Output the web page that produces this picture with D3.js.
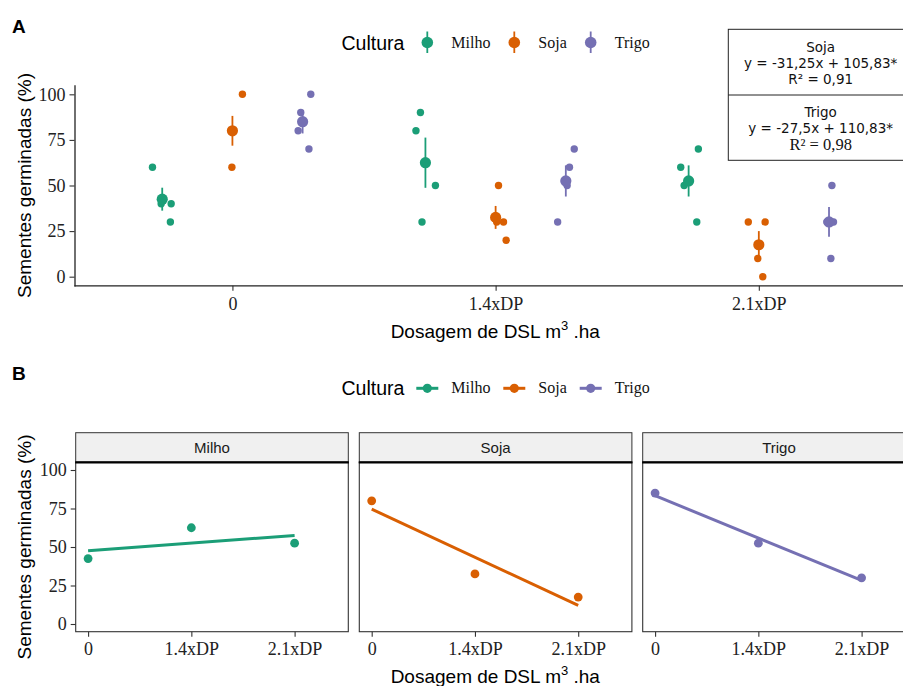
<!DOCTYPE html>
<html><head><meta charset="utf-8">
<script src="https://cdn.jsdelivr.net/npm/d3@7"></script>
<style>body{margin:0;background:#fff} svg{display:block}</style>
</head><body><svg id="c" width="903" height="686"></svg>
<script>
// ---------- data ----------
const doses = ["0", "1.4xDP", "2.1xDP"];
const cultures = ["Milho", "Soja", "Trigo"];
const cultureColors = ["#1B9E77", "#D95F02", "#7570B3"];
const yTicks = [0, 25, 50, 75, 100];

// replicates (4 per dose), per culture
const milhoReps = [[60, 40, 40, 30], [90, 80, 50, 30], [70, 60, 50, 30]];
const sojaReps  = [[100, 80, 80, 60], [50, 30, 30, 20], [30, 30, 10, 0]];
const trigoReps = [[100, 90, 80, 70], [70, 60, 50, 30], [50, 30, 30, 10]];

// horizontal jitter of each replicate (x-axis units)
const milhoJitter = [[-0.037, 0.034, -0.004, 0.031], [-0.019, -0.036, 0.038, -0.013], [0.037, -0.030, -0.017, 0.031]];
const sojaJitter  = [[0.038, 0.002, -0.004, -0.002], [0.011, 0.030, 0.004, 0.040], [-0.040, 0.024, -0.004, 0.015]];
const trigoJitter = [[0.031, -0.007, -0.017, 0.024], [0.032, 0.014, 0.005, -0.031], [0.011, 0.017, -0.008, 0.007]];

const eqSoja  = ["Soja", "y = -31,25x + 105,83*", "R² = 0,91"];
const eqTrigo = ["Trigo", "y = -27,5x + 110,83*", "R² = 0,98"];

const legendTitle = "Cultura";
const yTitle = "Sementes germinadas (%)";

// ---------- derived ----------
const reps = [milhoReps, sojaReps, trigoReps];
const jit = [milhoJitter, sojaJitter, trigoJitter];
const stats = reps.map(c => c.map(v => {
  const m = d3.mean(v), se = d3.deviation(v) / Math.sqrt(v.length);
  return {mean: m, lo: m - se, hi: m + se};
}));
function linfit(ys) {
  const xs = ys.map((_, i) => i + 1);
  const mx = d3.mean(xs), my = d3.mean(ys);
  const b = d3.sum(xs, (x, i) => (x - mx) * (ys[i] - my)) / d3.sum(xs, x => (x - mx) ** 2);
  return {b, a: my - b * mx};
}

const SANS = "'Liberation Sans', Arial, sans-serif";
const SERIF = "'Liberation Serif', 'Times New Roman', serif";
const DEJA = "'DejaVu Sans', Verdana, sans-serif";
const svg = d3.select("#c");

function yAxisTitle(cy) {
  svg.append("text").attr("transform", `translate(31,${cy}) rotate(-90)`)
    .attr("text-anchor", "middle").attr("font-family", SANS).attr("font-size", 19)
    .attr("fill", "#000").text(yTitle);
}
function xAxisTitle(cx, by) {
  const t = svg.append("text").attr("x", cx).attr("y", by).attr("text-anchor", "middle")
    .attr("font-family", SANS).attr("font-size", 19).attr("fill", "#000");
  t.append("tspan").text("Dosagem de DSL m");
  t.append("tspan").attr("dy", -8).attr("font-size", 13).text("3");
  t.append("tspan").attr("dy", 8).text(" .ha");
}
function styleAxis(g, vertical) {
  g.selectAll("path.domain").remove();
  g.selectAll(".tick line").attr("stroke", "#333").attr("stroke-width", 1.1);
  g.selectAll(".tick text").attr("font-family", SERIF).attr("font-size", 18).attr("fill", "#222");
}

// ================= PANEL A =================
svg.append("text").attr("x", 12).attr("y", 33).attr("font-family", SANS)
  .attr("font-weight", "bold").attr("font-size", 19).text("A");

const xA = d3.scaleLinear().domain([0.4, 3.6]).range([74.5, 74.5 + 3.2 * 263.2]);
const yA = d3.scaleLinear().domain([-5, 105]).range([285.8, 85.2]);
const dodge = [-0.2667, 0, 0.2667];

// axes
const gyA = svg.append("g").attr("transform", "translate(74.5,0)")
  .call(d3.axisLeft(yA).tickValues(yTicks).tickSize(5).tickPadding(4));
styleAxis(gyA);
const gxA = svg.append("g").attr("transform", "translate(0,285.8)")
  .call(d3.axisBottom(xA).tickValues([1, 2, 3]).tickFormat((d) => doses[d - 1]).tickSize(5).tickPadding(6));
styleAxis(gxA);
gxA.selectAll(".tick text").attr("dy", "0.71em");
svg.append("line").attr("x1", 75).attr("x2", 75).attr("y1", yA(105)).attr("y2", 286.4)
  .attr("stroke", "#222").attr("stroke-width", 1.3);
svg.append("line").attr("x1", 74.4).attr("x2", 903).attr("y1", 285.8).attr("y2", 285.8)
  .attr("stroke", "#222").attr("stroke-width", 1.3);

// points & pointranges
cultures.forEach((c, ci) => {
  const col = cultureColors[ci];
  const g = svg.append("g");
  reps[ci].forEach((vals, di) => {
    vals.forEach((v, ri) => {
      g.append("circle").attr("cx", xA(di + 1 + dodge[ci] + jit[ci][di][ri])).attr("cy", yA(v))
        .attr("r", 3.7).attr("fill", col);
    });
  });
  stats[ci].forEach((s, di) => {
    const cx = xA(di + 1 + dodge[ci]);
    g.append("line").attr("x1", cx).attr("x2", cx).attr("y1", yA(s.lo)).attr("y2", yA(s.hi))
      .attr("stroke", col).attr("stroke-width", 1.8);
    g.append("circle").attr("cx", cx).attr("cy", yA(s.mean)).attr("r", 5.6).attr("fill", col);
  });
});

// legend A
const legX = [427.3, 514.3, 590.7];
svg.append("text").attr("x", 341.5).attr("y", 50).attr("font-family", SANS).attr("font-size", 19.5).text(legendTitle);
cultures.forEach((c, ci) => {
  const col = cultureColors[ci];
  svg.append("line").attr("x1", legX[ci]).attr("x2", legX[ci]).attr("y1", 31.5).attr("y2", 53)
    .attr("stroke", col).attr("stroke-width", 1.8);
  svg.append("circle").attr("cx", legX[ci]).attr("cy", 42.5).attr("r", 5.8).attr("fill", col);
  svg.append("text").attr("x", legX[ci] + 24).attr("y", 47.5).attr("font-family", SERIF)
    .attr("font-size", 16).attr("fill", "#111").text(c);
});

// annotation box
const boxL = 728.3, boxR = 913.1, boxT = 29.3, boxM = 95, boxB = 160.3, boxC = (boxL + boxR) / 2;
svg.append("rect").attr("x", boxL).attr("y", boxT).attr("width", boxR - boxL).attr("height", boxB - boxT)
  .attr("fill", "#fff").attr("stroke", "#222").attr("stroke-width", 1);
svg.append("line").attr("x1", boxL).attr("x2", boxR).attr("y1", boxM).attr("y2", boxM)
  .attr("stroke", "#222").attr("stroke-width", 1);
const eqLines = [[eqSoja, [51.5, 67.5, 84]], [eqTrigo, [117, 133, 149.5]]];
eqLines.forEach(([lines, ys], k) => {
  lines.forEach((t, i) => {
    const serifR = (k === 1 && i === 2);
    svg.append("text").attr("x", boxC).attr("y", ys[i]).attr("text-anchor", "middle")
      .attr("font-family", serifR ? SERIF : DEJA).attr("font-size", serifR ? 16.5 : 13.5)
      .attr("fill", "#111").text(t);
  });
});

yAxisTitle(185.5);
xAxisTitle(495.3, 337.5);

// ================= PANEL B =================
svg.append("text").attr("x", 12).attr("y", 380).attr("font-family", SANS)
  .attr("font-weight", "bold").attr("font-size", 19).text("B");

// legend B
svg.append("text").attr("x", 341.5).attr("y", 395).attr("font-family", SANS).attr("font-size", 19.5).text(legendTitle);
cultures.forEach((c, ci) => {
  const col = cultureColors[ci];
  svg.append("line").attr("x1", legX[ci] - 11).attr("x2", legX[ci] + 11).attr("y1", 388.3).attr("y2", 388.3)
    .attr("stroke", col).attr("stroke-width", 3);
  svg.append("circle").attr("cx", legX[ci]).attr("cy", 388.3).attr("r", 4.6).attr("fill", col);
  svg.append("text").attr("x", legX[ci] + 24).attr("y", 392.8).attr("font-family", SERIF)
    .attr("font-size", 16).attr("fill", "#111").text(c);
});

const panelLeft = [75.7, 359.3, 642.7], panelW = 272.6;
const stripT = 432.7, panelT = 462.3, panelB = 631.7;
const yB = d3.scaleLinear().domain([-5, 105]).range([panelB, panelT]);

cultures.forEach((c, ci) => {
  const col = cultureColors[ci];
  const L = panelLeft[ci];
  const xB = d3.scaleLinear().domain([0.88, 3.52]).range([L, L + panelW]);
  // strip
  svg.append("rect").attr("x", L).attr("y", stripT).attr("width", panelW).attr("height", panelT - stripT)
    .attr("fill", "#F0F0F0").attr("stroke", "#333").attr("stroke-width", 1);
  svg.append("text").attr("x", L + panelW / 2).attr("y", 452.8).attr("text-anchor", "middle")
    .attr("font-family", SANS).attr("font-size", 15).attr("fill", "#1a1a1a").text(c);
  // panel border
  svg.append("rect").attr("x", L).attr("y", panelT).attr("width", panelW).attr("height", panelB - panelT)
    .attr("fill", "none").attr("stroke", "#333").attr("stroke-width", 1.1);
  svg.append("line").attr("x1", L - 0.5).attr("x2", L + panelW + 0.5).attr("y1", panelT).attr("y2", panelT)
    .attr("stroke", "#000").attr("stroke-width", 2.2);
  // x axis
  const gx = svg.append("g").attr("transform", `translate(0,${panelB})`)
    .call(d3.axisBottom(xB).tickValues([1, 2, 3]).tickFormat(d => doses[d - 1]).tickSize(5).tickPadding(6));
  styleAxis(gx);
  gx.selectAll(".tick text").attr("dy", "0.71em");
  if (ci === 0) {
    const gy = svg.append("g").attr("transform", `translate(${L},0)`)
      .call(d3.axisLeft(yB).tickValues(yTicks).tickSize(5).tickPadding(4));
    styleAxis(gy);
  }
  // regression line on means
  const means = stats[ci].map(s => s.mean);
  const f = linfit(means);
  svg.append("line").attr("x1", xB(1)).attr("x2", xB(3))
    .attr("y1", yB(f.a + f.b * 1)).attr("y2", yB(f.a + f.b * 3))
    .attr("stroke", col).attr("stroke-width", 3);
  means.forEach((m, di) => {
    svg.append("circle").attr("cx", xB(di + 1)).attr("cy", yB(m)).attr("r", 4.4).attr("fill", col);
  });
});

yAxisTitle((panelT + panelB) / 2);
xAxisTitle(495.3, 682.7);
</script>
</body></html>
